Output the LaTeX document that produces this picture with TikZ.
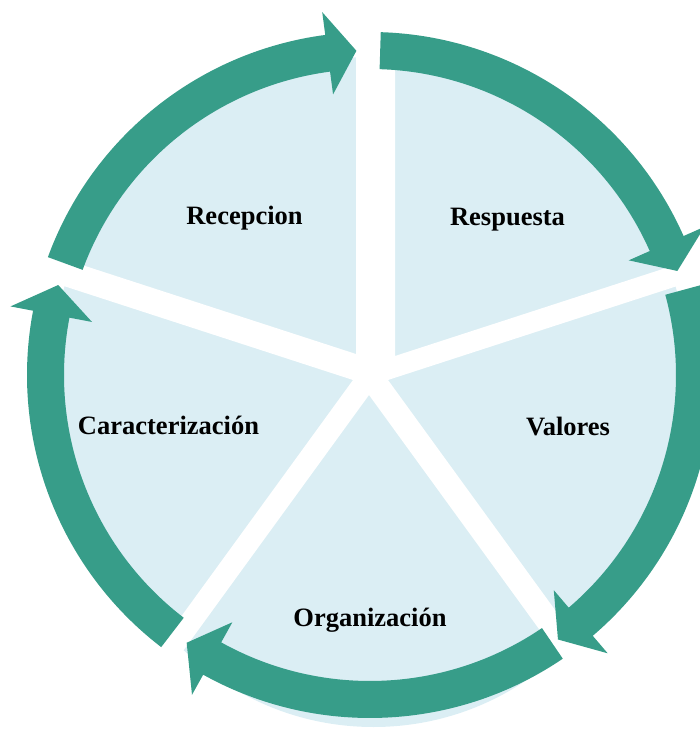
\documentclass[tikz,border=0pt]{standalone}
\usepackage{fontspec}
\setmainfont{Liberation Serif}
\usetikzlibrary{calc}
\definecolor{ringteal}{RGB}{55,157,137}
\definecolor{slicefill}{RGB}{219,238,244}
\tikzset{
    LB/.style ={font=\fontsize{26.5}{30}\selectfont\bfseries, anchor=base},
    AR/.style ={fill=ringteal, draw=none},
    SL/.style ={fill=slicefill, draw=none}}

\begin{document}
\begin{tikzpicture}[x=1pt,y=1pt]
        \useasboundingbox (-370,-355) rectangle (330,375);
        \clip (-370,-355) rectangle (330,375);
        \fill[SL] (0,0) circle[radius=318];
        \begin{scope}
            \clip (0,0) -- (-54:500) -- (-126:500) -- cycle;
            \fill[SL] (3.5,-79) circle[radius=273];
        \end{scope}
        \coordinate (aRec) at (-14,21);
        \coordinate (aRes) at (25,19);
        \coordinate (aVal) at (18,-5);
        \coordinate (aOrg) at (-1,-20);
        \coordinate (aCar) at (-17,-5);
        \fill[white] (aRec) -- ($(aRec)+(90:500)$) -- ($(aRes)+(90:500)$) -- (aRes)
            -- ($(aRes)+(18:500)$) -- ($(aVal)+(18:500)$) -- (aVal)
            -- ($(aVal)+(-54:500)$) -- ($(aOrg)+(-54:500)$) -- (aOrg)
            -- ($(aOrg)+(-126:500)$) -- ($(aCar)+(-126:500)$) -- (aCar)
            -- ($(aCar)+(162:500)$) -- ($(aRec)+(162:500)$) -- cycle;
        \foreach \s/\b/\t in {88.2/23.9/18.7, 15.2/-49.5/-54.6, -55.8/-119.1/-124.4,
                -127.5/-190.8/-196.1, 159.9/97.5/92.4}
            \fill[AR] (\s:343) arc[start angle=\s, end angle=\b, radius=343]
                -- (\b:366) -- (\t:324.5) -- (\b:283) -- (\b:306)
                arc[start angle=\b, end angle=\s, radius=306] -- cycle;
        \node[LB] (rec) at (-125.5,150) {Recepcion};
        \node[LB] (res) at (137.5,149) {Respuesta};
        \node[LB] (val) at (198,-61) {Valores};
        \node[LB] (org) at (0,-251.5) {Organización};
        \node[LB] (car) at (-201.5,-60) {Caracterización};
    \end{tikzpicture}
\end{document}
